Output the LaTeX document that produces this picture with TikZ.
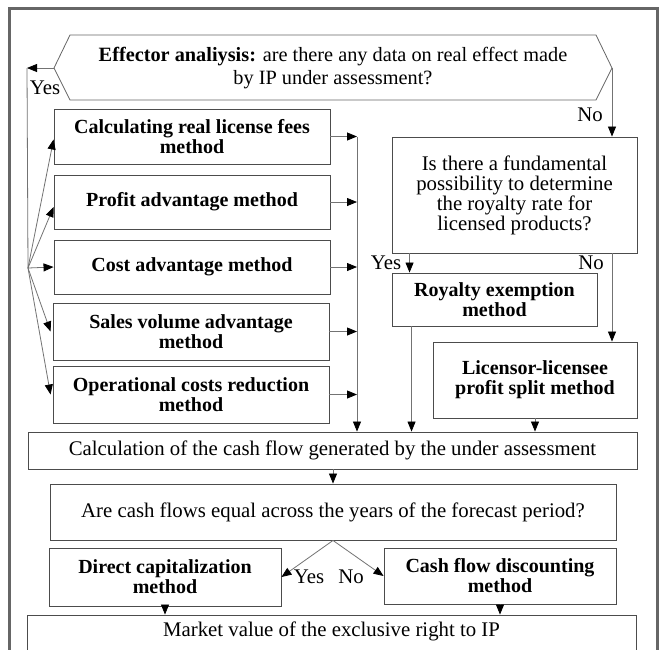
\documentclass[tikz,border=0pt]{standalone}
\usepackage{fontspec}
\setmainfont{Liberation Serif}
\usetikzlibrary{arrows.meta,calc}
\begin{document}
\begin{tikzpicture}[x=1pt,y=-1pt,
  txt/.style={font=\fontsize{20.8}{20}\selectfont},
  box/.style={txt, draw=black!70, line width=0.9pt, align=center, inner sep=0pt},
  method/.style={box, font=\fontsize{20}{20}\selectfont\bfseries},
  link/.style={draw=black!55, line width=0.8pt},
  arr/.style={link, -{Triangle[length=10pt,width=8pt,color=black]}},
  lbl/.style={txt, inner sep=0pt},
  frame/.style={draw=black!60, line width=2.5pt}]
\useasboundingbox (0,0) rectangle (663,649);
\clip (0,0) rectangle (663,649);
\fill[white] (0,0) rectangle (663,649);
\draw[frame] (9.5,8.5) rectangle (657.5,700);

% decision hexagon
\coordinate (hexW) at (54,68);
\coordinate (hexE) at (612,68);
\draw[draw=black!60, line width=0.8pt] (hexW) -- (70,35) -- (596,35) -- (hexE) -- (596,100) -- (70,100) -- cycle;
\node[txt, align=center, font=\fontsize{20.3}{23}\selectfont] (hex) at (333,68.5)
  {\textbf{Effector analiysis:} are there any data on real effect made\\by IP under assessment?};

% income-approach methods
\node[method, minimum width=276pt, minimum height=55pt] (m1) at (192,136.5) {Calculating real license fees\\method};
\node[method, minimum width=276pt, minimum height=54pt] (m2) at (192,202) {Profit advantage method};
\node[method, minimum width=276pt, minimum height=54pt] (m3) at (192,267) {Cost advantage method};
\node[method, minimum width=276pt, minimum height=57pt] (m4) at (191,331.5) {Sales volume advantage\\method};
\node[method, minimum width=276pt, minimum height=57pt] (m5) at (191,394.5) {Operational costs reduction\\method};

% royalty branch
\node[box, minimum width=245pt, minimum height=116pt] (q) at (514.5,195)
  {Is there a fundamental\\possibility to determine\\the royalty rate for\\licensed products?};
\node[method, minimum width=205pt, minimum height=53pt] (roy) at (494.5,299.5) {Royalty exemption\\method};
\node[method, minimum width=204pt, minimum height=76pt] (lic) at (535,380) {Licensor-licensee\\profit split method};

% cash flow and result
\node[box, minimum width=609pt, minimum height=37pt] (calc) at (332.5,450.5)
  {Calculation of the cash flow generated by the under assessment};
\node[box, minimum width=566pt, minimum height=56pt] (are) at (333,512)
  {Are cash flows equal across the years of the forecast period?};
\node[method, minimum width=232pt, minimum height=58pt] (dir) at (165,577) {Direct capitalization\\method};
\node[method, minimum width=232pt, minimum height=56pt] (cash) at (500,576) {Cash flow discounting\\method};
\node[box, minimum width=609pt, minimum height=40pt, text depth=12pt] (mkt) at (331.5,635)
  {Market value of the exclusive right to IP};

% "Yes" branch: fan out to the methods
\coordinate (yesend) at (27,68);
\coordinate (fan) at (28,268);
\draw[arr] (hexW) -- (yesend);
\draw[link] (yesend) -- (fan);
\node[lbl] (yes1) at (45,88) {Yes};
\draw[arr] (fan) -- ($(m1.west)+(0,3)$);
\draw[arr] (fan) -- ($(m2.west)+(0,5)$);
\draw[arr] (fan) -- (m3.west);
\draw[arr] (fan) -- ($(m4.west)+(-2,0)$);
\draw[arr] (fan) -- ($(m5.west)+(-2,0)$);

% collector of the methods into the cash flow box
\coordinate (col) at (357,137);
\draw[arr] (m1.east) -- (m1.east -| col);
\draw[arr] (m2.east) -- (m2.east -| col);
\draw[arr] (m3.east) -- (m3.east -| col);
\draw[arr] (m4.east) -- (m4.east -| col);
\draw[arr] (m5.east) -- (m5.east -| col);
\draw[arr] (col) -- (calc.north -| col);

% "No" branch
\draw[arr] (hexE) -- (hexE |- q.north);
\node[lbl] (no1) at (590,115) {No};
\coordinate (qyes) at ($(q.south west)+(18,0)$);
\draw[arr] (qyes) -- (qyes |- roy.north);
\node[lbl] (yes2) at (386,263) {Yes};
\draw[arr] (q.south -| hexE) -- (lic.north -| hexE);
\node[lbl] (no2) at (591,263) {No};
\coordinate (royout) at ($(roy.south west)+(20,0)$);
\draw[arr] (royout) -- (royout |- calc.north);
\draw[arr] (lic.south) -- (lic.south |- calc.north);

% cash flow decision
\draw[arr] (calc.south -| are.north) -- (are.north);
\draw[arr] (are.south) -- (dir.east);
\draw[arr] (are.south) -- (cash.west);
\node[lbl] (yes3) at (309,577) {Yes};
\node[lbl] (no3) at (351,577) {No};
\draw[arr] (dir.south) -- (dir.south |- mkt.north);
\draw[arr] (cash.south) -- (cash.south |- mkt.north);
\end{tikzpicture}
\end{document}
